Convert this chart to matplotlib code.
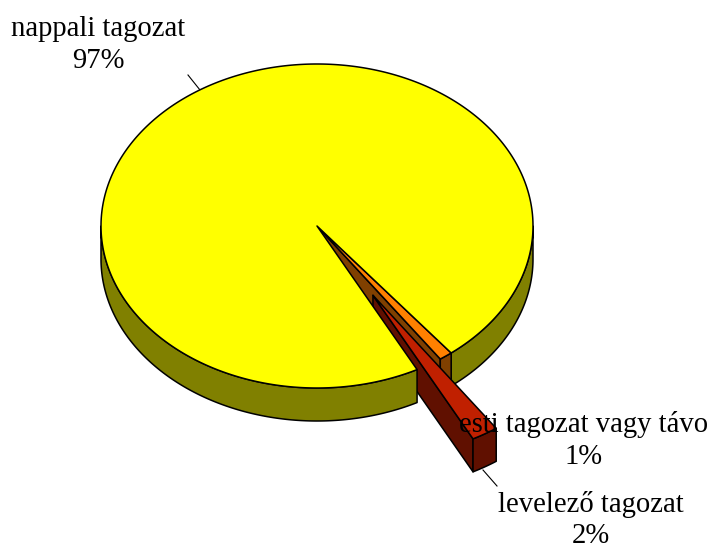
import numpy as np
import matplotlib
matplotlib.use("Agg")
import matplotlib.pyplot as plt
from matplotlib.patches import Polygon

labels = ["nappali tagozat", "levelező tagozat", "esti tagozat vagy távo"]
shares = [97, 2, 1]
percent_labels = ["97%", "2%", "1%"]
explode = [0.0, 0.5, 0.0]

top_colors = ["#ffff00", "#c02000", "#ff8000"]
side_colors = ["#808000", "#601000", "#804000"]

cx, cy = 317, 226
rx, ry = 216, 162
depth = 33
start = 38.4

plt.rcParams["font.family"] = ["Liberation Serif", "DejaVu Serif"]

fig = plt.figure(figsize=(7.13, 5.46), dpi=100)
ax = fig.add_axes([0, 0, 1, 1])
ax.set_xlim(0, 713)
ax.set_ylim(546, 0)
ax.axis("off")


def rim(t0, t1, ox, oy):
    # t is measured from straight down, going round to the right
    t = np.radians(np.linspace(t0, t1, max(int(abs(t1 - t0) * 2), 2)))
    return np.column_stack([ox + rx * np.sin(t), oy + ry * np.cos(t)])


def poly(pts, color, z):
    ax.add_patch(Polygon(pts, closed=True, fc=color, ec="black", lw=1.1, joinstyle="round", zorder=z))


def band(arc, color, z):
    poly(np.vstack([arc, (arc + (0, depth))[::-1]]), color, z)


# angle range and explode offset of each slice
slices = []
t = start
for share, ex in zip(shares, explode):
    t1 = t + share * 3.6
    mid = np.radians((t + t1) / 2)
    slices.append((t, t1, cx + ex * rx * np.sin(mid), cy + ex * ry * np.cos(mid)))
    t = t1


def cut_face(i, z):
    t0, t1, ox, oy = slices[i]
    edge = rim(t0, t0, ox, oy)[0]
    poly([(ox, oy), edge, edge + (0, depth), (ox, oy + depth)], side_colors[i], z)


# back to front: right yellow rim, orange, red sides, yellow top, red top
t0, t1, ox, oy = slices[0]
band(rim(t0, 90, ox, oy), side_colors[0], 1)

ot0, ot1, ox2, oy2 = slices[2]
cut_face(2, 2)
band(rim(ot0, ot1, ox2, oy2), side_colors[2], 2.1)
poly(np.vstack([[(ox2, oy2)], rim(ot0, ot1, ox2, oy2)]), top_colors[2], 2.2)

rt0, rt1, ox1, oy1 = slices[1]
cut_face(1, 3)
band(rim(rt0, rt1, ox1, oy1), side_colors[1], 3.1)

band(rim(270, t1, ox, oy), side_colors[0], 4)
poly(np.vstack([[(ox, oy)], rim(t0, t1, ox, oy)]), top_colors[0], 4.1)

poly(np.vstack([[(ox1, oy1)], rim(rt0, rt1, ox1, oy1)]), top_colors[1], 5)

ax.plot([188, 200], [75, 90], color="black", lw=0.8, zorder=0.5)
ax.plot([483, 497], [470, 486], color="black", lw=0.8, zorder=0.5)

name_pos = [(98, 36), (591, 512), (584, 432)]
pct_pos = [(98, 68), (591, 543), (584, 464)]
for name, pct, p, q in zip(labels, percent_labels, name_pos, pct_pos):
    ax.text(p[0], p[1], name, ha="center", va="baseline", fontsize=20.6, color="black", zorder=8)
    ax.text(q[0], q[1], pct, ha="center", va="baseline", fontsize=20.6, color="black", zorder=8)

fig.savefig("out.png", dpi=100)
